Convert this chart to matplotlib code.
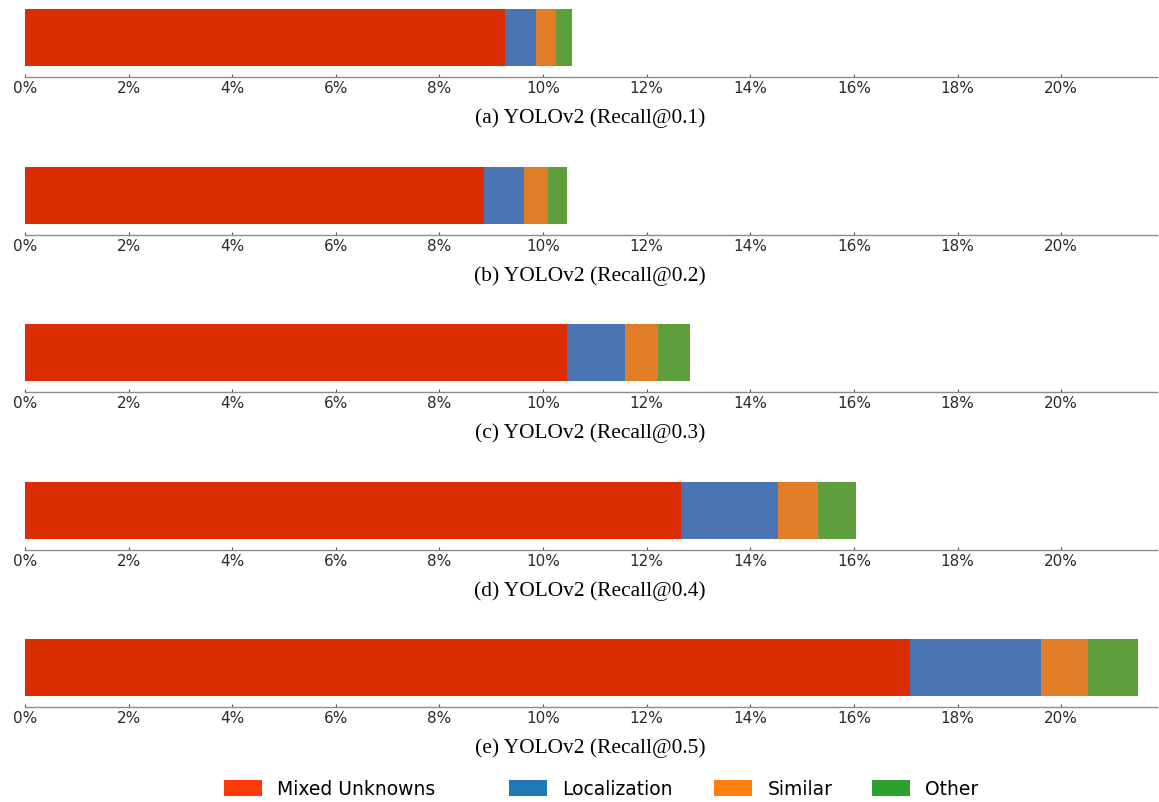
import numpy as np
import matplotlib.pyplot as plt
from matplotlib.patches import Patch
from matplotlib.ticker import PercentFormatter

# Error breakdown (% of detections) per recall threshold
captions = ['(a) YOLOv2 (Recall@0.1)', '(b) YOLOv2 (Recall@0.2)',
            '(c) YOLOv2 (Recall@0.3)', '(d) YOLOv2 (Recall@0.4)',
            '(e) YOLOv2 (Recall@0.5)']
categories = ['Mixed Unknowns', 'Localization', 'Similar', 'Other']
mixed_unknowns = [9.27, 8.86, 10.46, 12.66, 17.08]
localization = [0.59, 0.77, 1.12, 1.88, 2.53]
similar = [0.39, 0.47, 0.64, 0.77, 0.91]
other = [0.31, 0.36, 0.62, 0.73, 0.97]

bar_colors = ['#DC2C02', '#4A74B3', '#E07D26', '#5E9E3C']
legend_colors = ['#FE3A0A', '#1F77B4', '#FF7F0E', '#2CA02C']

W, H = 1159, 803
fig = plt.figure(figsize=(W / 100, H / 100), dpi=100)

offsets = [0, 158, 315, 473, 630]
series = [mixed_unknowns, localization, similar, other]

for i, off in enumerate(offsets):
    top, bottom = 5 + off, 78 + off
    ax = fig.add_axes([25 / W, 1 - bottom / H, (1157 - 25) / W, (bottom - top) / H])
    left = 0
    for vals, col in zip(series, bar_colors):
        ax.barh(0, vals[i], left=left, height=1.0, color=col, linewidth=0)
        left += vals[i]
    ax.set_xlim(0, 21.85)
    ax.set_ylim(-0.5 - 11 / 57, 0.5 + 5 / 57)
    ax.set_xticks(np.arange(0, 21, 2))
    ax.xaxis.set_major_formatter(PercentFormatter(xmax=100, decimals=0))
    ax.set_yticks([])
    for s in ['top', 'right', 'left']:
        ax.spines[s].set_visible(False)
    ax.spines['bottom'].set_color('#8c8c8c')
    ax.spines['bottom'].set_linewidth(1.0)
    ax.tick_params(axis='x', direction='in', length=2, color='#555555',
                   labelsize=11, labelcolor='#2a2a2a', pad=2)
    fig.text(590 / W, 1 - (118 + off) / H, captions[i], ha='center', va='center',
             fontsize=15.4, family='Liberation Serif')

# legend entries placed individually
xs = [225, 510, 715, 873]
for name, col, x in zip(categories, legend_colors, xs):
    fig.legend(handles=[Patch(facecolor=col, edgecolor='none', label=name)],
               loc='center left', bbox_to_anchor=(x / W - 0.009, 1 - 790 / H),
               frameon=False, fontsize=13.5, handlelength=2.05, handleheight=0.95,
               handletextpad=0.8, borderpad=0)

fig.savefig('out.png', dpi=100)
